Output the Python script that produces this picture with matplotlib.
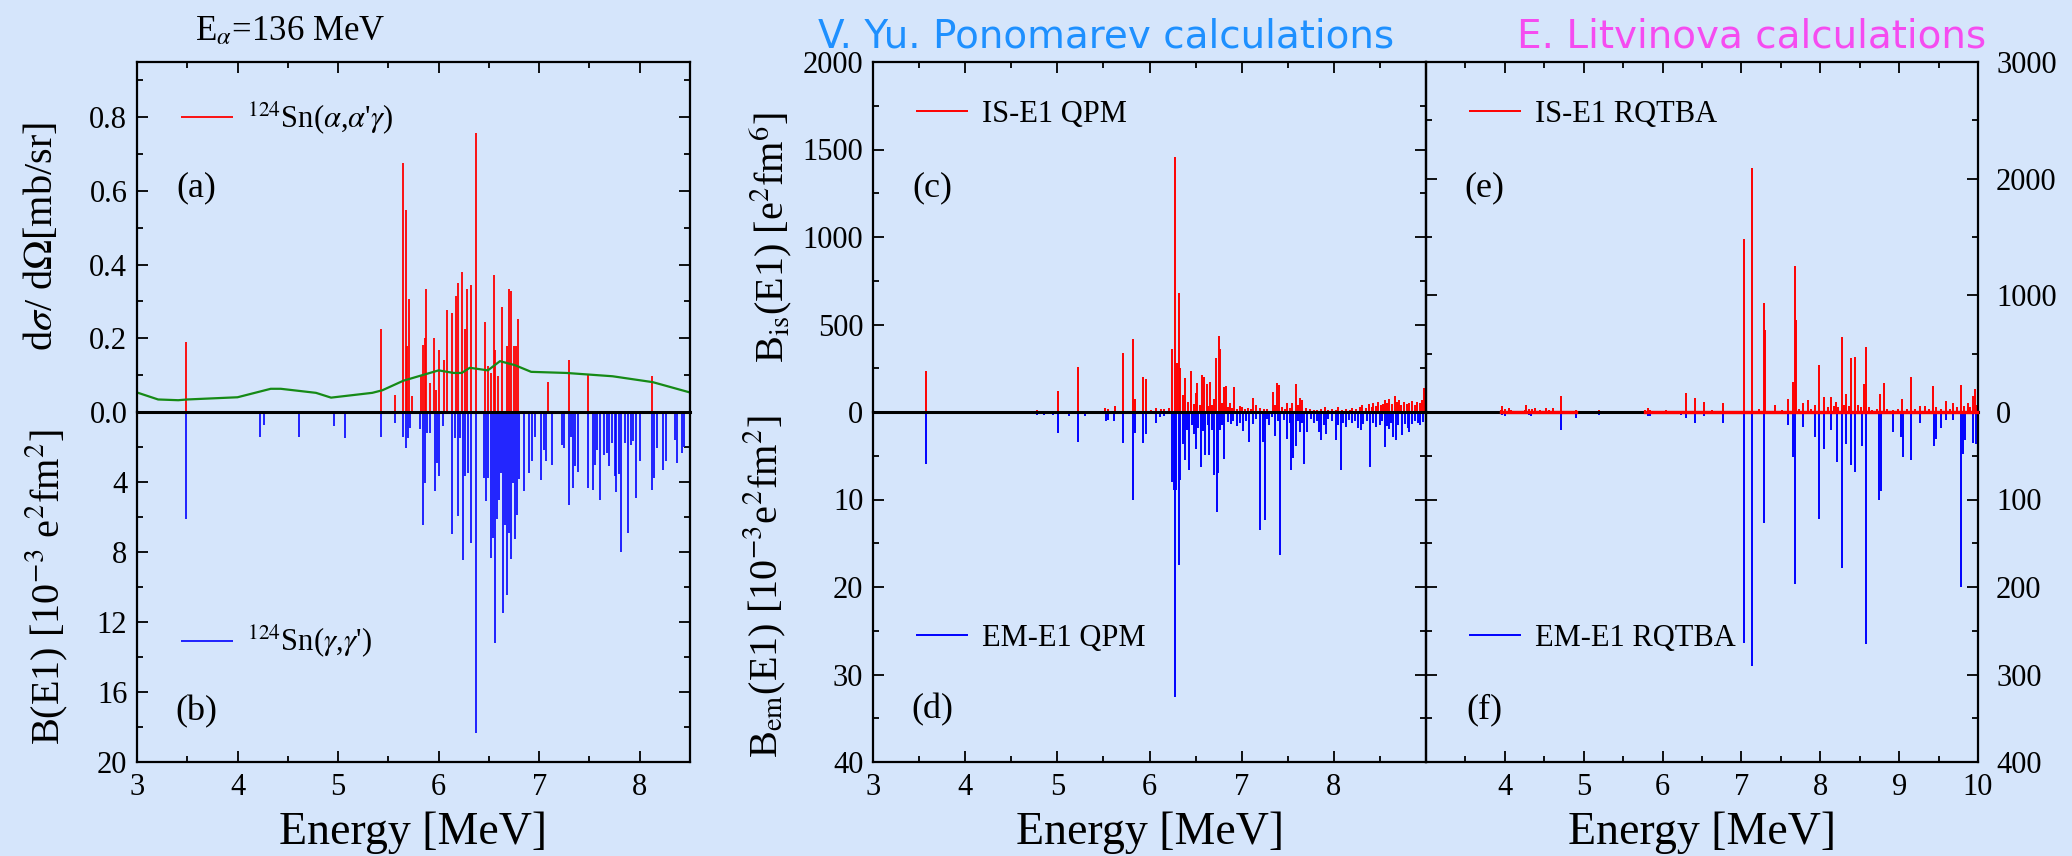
import numpy as np
import matplotlib.pyplot as plt
from matplotlib.ticker import FixedLocator, MultipleLocator, FormatStrFormatter

plt.rcParams['font.family'] = 'Liberation Serif'
plt.rcParams['mathtext.fontset'] = 'stix'

# ---- (a) 124Sn(alpha,alpha'gamma), E_alpha = 136 MeV, dsigma/dOmega [mb/sr]
aag_energy = [3.49, 5.43, 5.57, 5.65, 5.68, 5.69, 5.71, 5.74, 5.82, 5.84, 5.86, 5.87,
              5.91, 5.95, 5.97, 6.00, 6.05, 6.08, 6.13, 6.17, 6.19, 6.23, 6.26, 6.28,
              6.32, 6.37, 6.46, 6.49, 6.52, 6.55, 6.56, 6.59, 6.63, 6.68, 6.70, 6.72,
              6.75, 6.77, 6.79, 7.09, 7.30, 7.49, 8.12]
aag_xsec = [0.190, 0.224, 0.045, 0.675, 0.547, 0.180, 0.308, 0.043, 0.100, 0.183, 0.200, 0.334,
            0.079, 0.200, 0.061, 0.168, 0.140, 0.276, 0.269, 0.314, 0.349, 0.381, 0.224, 0.334,
            0.346, 0.757, 0.245, 0.124, 0.106, 0.371, 0.169, 0.097, 0.285, 0.178, 0.334, 0.328,
            0.178, 0.180, 0.253, 0.081, 0.142, 0.100, 0.099]

# smooth detection-efficiency curve drawn in (a)
curve_energy = [3.00, 3.21, 3.41, 3.50, 4.00, 4.33, 4.43, 4.78, 4.93, 5.34, 5.44, 5.65,
                6.00, 6.15, 6.23, 6.31, 6.49, 6.61, 6.76, 6.92, 7.27, 7.73, 8.13, 8.50]
curve_xsec = [0.053, 0.034, 0.032, 0.034, 0.040, 0.063, 0.063, 0.052, 0.039, 0.052, 0.059, 0.085,
              0.113, 0.106, 0.106, 0.120, 0.113, 0.138, 0.127, 0.109, 0.106, 0.097, 0.081, 0.053]

# ---- (b) 124Sn(gamma,gamma'), B(E1) [1e-3 e^2 fm^2]
gg_energy = [3.49, 4.22, 4.26, 4.61, 4.96, 5.07, 5.43, 5.57, 5.65, 5.68, 5.70, 5.72,
             5.81, 5.84, 5.86, 5.88, 5.91, 5.96, 5.98, 6.00, 6.04, 6.13, 6.16, 6.19,
             6.21, 6.24, 6.26, 6.29, 6.32, 6.37, 6.45, 6.47, 6.49, 6.52, 6.54, 6.56,
             6.58, 6.60, 6.62, 6.64, 6.66, 6.68, 6.70, 6.72, 6.74, 6.76, 6.78, 6.80,
             6.85, 6.90, 6.93, 6.96, 7.02, 7.05, 7.07, 7.13, 7.23, 7.25, 7.30, 7.32,
             7.34, 7.36, 7.39, 7.49, 7.54, 7.56, 7.58, 7.60, 7.64, 7.67, 7.69, 7.72,
             7.75, 7.76, 7.79, 7.81, 7.85, 7.88, 7.91, 7.93, 7.96, 8.00, 8.12, 8.14,
             8.17, 8.23, 8.26, 8.35, 8.37, 8.42, 8.44]
gg_be1 = [6.10, 1.40, 0.73, 1.40, 0.82, 1.50, 1.45, 0.63, 1.40, 2.06, 1.50, 0.90,
          0.97, 6.45, 4.06, 1.20, 1.20, 4.54, 2.92, 3.63, 0.82, 6.96, 1.50, 5.93,
          1.50, 8.45, 3.68, 3.49, 7.46, 18.34, 3.78, 5.11, 3.78, 8.36, 7.21, 13.22,
          6.10, 5.02, 3.49, 11.50, 6.45, 10.46, 6.93, 8.41, 4.06, 7.27, 5.88, 3.82,
          4.54, 3.49, 2.82, 1.40, 3.87, 2.16, 2.82, 3.00, 1.87, 2.06, 5.30, 1.40,
          4.35, 3.11, 3.45, 4.35, 4.45, 3.00, 2.16, 5.02, 2.44, 2.35, 3.11, 1.77,
          3.68, 4.58, 3.53, 7.98, 1.77, 6.93, 1.87, 1.68, 4.92, 2.82, 4.45, 3.78,
          2.06, 3.30, 2.82, 1.58, 2.92, 2.35, 2.02]

# ---- (c) isoscalar E1, QPM [e^2 fm^6]
qpm_is_energy = [3.58, 4.78, 4.95, 5.01, 5.22, 5.52, 5.55, 5.63, 5.71, 5.82, 5.84, 5.93,
                 5.96, 6.02, 6.07, 6.12, 6.16, 6.21, 6.24, 6.28, 6.30, 6.32, 6.33, 6.36,
                 6.39, 6.42, 6.45, 6.48, 6.50, 6.52, 6.55, 6.57, 6.59, 6.62, 6.64, 6.66,
                 6.68, 6.70, 6.72, 6.75, 6.77, 6.79, 6.81, 6.83, 6.85, 6.87, 6.90, 6.92,
                 6.95, 6.98, 7.00, 7.04, 7.07, 7.10, 7.12, 7.16, 7.20, 7.24, 7.28, 7.34,
                 7.36, 7.38, 7.41, 7.44, 7.47, 7.49, 7.52, 7.55, 7.59, 7.61, 7.63, 7.66,
                 7.70, 7.74, 7.78, 7.82, 7.86, 7.90, 7.94, 7.98, 8.02, 8.05, 8.09, 8.13,
                 8.17, 8.20, 8.24, 8.28, 8.31, 8.35, 8.38, 8.41, 8.43, 8.46, 8.48, 8.51,
                 8.53, 8.55, 8.58, 8.60, 8.63, 8.66, 8.68, 8.71, 8.73, 8.76, 8.79, 8.82,
                 8.85, 8.88, 8.90, 8.93, 8.96, 8.98]
qpm_is_b = [232, 13, 8, 122, 257, 23, 18, 32, 339, 417, 77, 200,
            189, 12, 23, 18, 15, 22, 358, 1459, 278, 678, 253, 97,
            192, 60, 234, 45, 107, 164, 40, 211, 202, 160, 35, 170,
            40, 72, 307, 434, 358, 50, 145, 149, 30, 53, 25, 145,
            20, 35, 30, 15, 25, 20, 78, 40, 22, 15, 20, 116,
            40, 164, 154, 30, 20, 53, 25, 53, 158, 40, 82, 69,
            25, 15, 12, 14, 16, 30, 12, 15, 10, 30, 12, 18,
            10, 22, 15, 30, 38, 25, 45, 30, 53, 35, 59, 40,
            45, 69, 50, 72, 45, 93, 55, 69, 40, 59, 45, 50,
            65, 40, 55, 53, 70, 135]

# ---- (d) electromagnetic E1, QPM [1e-3 e^2 fm^2]
qpm_em_energy = [3.58, 4.50, 4.78, 4.85, 4.95, 5.01, 5.13, 5.22, 5.30, 5.53, 5.55, 5.62,
                 5.71, 5.82, 5.84, 5.93, 5.96, 6.07, 6.11, 6.16, 6.24, 6.27, 6.28, 6.29,
                 6.32, 6.33, 6.36, 6.39, 6.41, 6.43, 6.46, 6.48, 6.50, 6.53, 6.56, 6.58,
                 6.60, 6.63, 6.65, 6.68, 6.70, 6.73, 6.74, 6.76, 6.79, 6.81, 6.85, 6.88,
                 6.91, 6.95, 6.98, 7.01, 7.05, 7.08, 7.12, 7.16, 7.20, 7.23, 7.25, 7.28,
                 7.30, 7.33, 7.36, 7.39, 7.42, 7.46, 7.49, 7.52, 7.54, 7.56, 7.59, 7.61,
                 7.63, 7.66, 7.68, 7.71, 7.75, 7.79, 7.82, 7.84, 7.86, 7.89, 7.91, 7.94,
                 7.98, 8.02, 8.05, 8.08, 8.10, 8.13, 8.16, 8.20, 8.23, 8.26, 8.29, 8.32,
                 8.36, 8.39, 8.42, 8.46, 8.50, 8.52, 8.55, 8.58, 8.60, 8.62, 8.64, 8.67,
                 8.70, 8.74, 8.77, 8.80, 8.82, 8.85, 8.88, 8.91, 8.94, 8.97]
qpm_em_b = [5.9, 0.2, 0.3, 0.3, 0.3, 2.4, 0.4, 3.4, 0.5, 1.0, 0.9, 1.0,
            3.5, 10.1, 2.4, 3.5, 2.5, 1.3, 0.6, 0.5, 8.0, 8.9, 32.6, 8.9,
            17.5, 7.8, 3.7, 5.5, 2.0, 6.6, 1.5, 2.5, 4.2, 1.8, 6.3, 2.2,
            4.9, 1.5, 4.9, 2.0, 7.2, 11.4, 7.0, 2.0, 1.5, 5.4, 1.1, 1.4,
            1.0, 1.6, 1.2, 2.2, 1.0, 3.4, 1.4, 0.8, 13.5, 3.4, 12.3, 0.8,
            1.5, 0.6, 2.7, 1.0, 16.3, 0.9, 3.1, 1.2, 6.6, 5.3, 3.9, 1.0,
            2.3, 1.2, 5.9, 2.3, 0.8, 1.3, 1.0, 2.3, 3.2, 1.5, 2.5, 0.8,
            1.0, 3.2, 1.5, 6.6, 1.2, 1.7, 0.9, 1.3, 1.0, 1.8, 2.1, 1.4,
            1.0, 6.3, 1.2, 1.7, 1.5, 1.0, 4.0, 1.6, 1.9, 1.2, 2.8, 3.2,
            1.5, 2.6, 1.4, 1.8, 2.3, 1.4, 1.0, 1.3, 1.5, 1.1]

# ---- (e) isoscalar E1, RQTBA [e^2 fm^6]
rqtba_is_energy = [3.95, 3.97, 4.00, 4.05, 4.08, 4.25, 4.27, 4.30, 4.35, 4.38, 4.45, 4.52,
                   4.56, 4.61, 4.71, 4.90, 5.20, 5.78, 5.81, 5.84, 6.04, 6.15, 6.30, 6.41,
                   6.52, 6.63, 6.76, 6.90, 7.03, 7.14, 7.22, 7.29, 7.30, 7.43, 7.52, 7.59,
                   7.66, 7.68, 7.69, 7.73, 7.78, 7.85, 7.88, 7.93, 7.99, 8.05, 8.10, 8.14,
                   8.18, 8.20, 8.23, 8.27, 8.30, 8.33, 8.36, 8.39, 8.44, 8.48, 8.52, 8.55,
                   8.58, 8.62, 8.66, 8.72, 8.76, 8.81, 8.85, 8.92, 8.98, 9.04, 9.10, 9.15,
                   9.20, 9.27, 9.33, 9.38, 9.43, 9.47, 9.53, 9.60, 9.65, 9.68, 9.73, 9.79,
                   9.82, 9.87, 9.90, 9.94, 9.96, 9.99]
rqtba_is_b = [20, 49, 25, 34, 15, 20, 63, 30, 25, 34, 15, 34,
              15, 34, 140, 14, 14, 20, 34, 20, 14, 10, 163, 120,
              86, 20, 77, 10, 1486, 2091, 30, 934, 706, 63, 20, 114,
              254, 1254, 791, 25, 80, 100, 30, 57, 400, 125, 40, 131,
              50, 90, 40, 640, 60, 151, 50, 460, 475, 60, 40, 240,
              555, 40, 20, 30, 155, 250, 30, 20, 30, 114, 25, 300,
              30, 49, 54, 30, 226, 40, 30, 97, 30, 77, 40, 235,
              50, 77, 40, 134, 193, 60]

# ---- (f) electromagnetic E1, RQTBA [1e-3 e^2 fm^2]
rqtba_em_energy = [3.97, 4.00, 4.30, 4.33, 4.71, 4.90, 5.20, 5.81, 5.84, 6.24, 6.30, 6.41,
                   6.52, 6.76, 7.03, 7.14, 7.29, 7.59, 7.65, 7.68, 7.78, 7.93, 7.99, 8.05,
                   8.13, 8.21, 8.27, 8.33, 8.39, 8.44, 8.53, 8.58, 8.74, 8.77, 8.92, 9.02,
                   9.05, 9.15, 9.27, 9.44, 9.47, 9.53, 9.60, 9.68, 9.79, 9.81, 9.84, 9.94,
                   9.97]
rqtba_em_b = [3, 4, 3, 4, 20, 7, 3, 5, 4, 3, 7, 12,
              4, 13, 264, 290, 127, 15, 51, 196, 17, 29, 122, 42,
              20, 57, 178, 37, 61, 68, 39, 265, 101, 90, 23, 28,
              51, 55, 13, 39, 31, 18, 9, 9, 200, 48, 32, 35,
              36]

BG = '#d5e5fb'
RED, BLUE, GREEN = '#ff0000', '#0000ff', '#168a16'
W, H = 2072, 856
TICK_FS = 22

fig = plt.figure(figsize=(W / 100, H / 100), dpi=100, facecolor=BG)


def px_axes(x0, x1, y0, y1):
    # axes placed by pixel box (y measured from the top)
    return fig.add_axes([x0 / W, 1 - y1 / H, (x1 - x0) / W, (y1 - y0) / H], facecolor='none')


def ftext(x, y, s, **kw):
    return fig.text(x / W, 1 - y / H, s, **kw)


def style(ax, upper, xlim, xticks, ymax, yminor, ylabels, fmt='%g',
          left_lab=True, right_lab=False):
    ax.set_xlim(*xlim)
    ax.xaxis.set_major_locator(FixedLocator(xticks))
    ax.xaxis.set_minor_locator(MultipleLocator(0.5))
    if upper:
        ax.set_ylim(0, ymax)
        ax.set_zorder(2)
    else:
        ax.set_ylim(ymax, 0)
        ax.spines['top'].set_visible(False)
        ax.set_zorder(1)
    ax.yaxis.set_major_locator(FixedLocator(ylabels))
    ax.yaxis.set_minor_locator(MultipleLocator(yminor))
    ax.yaxis.set_major_formatter(FormatStrFormatter(fmt))
    for side in ['left', 'right', 'top', 'bottom']:
        ax.spines[side].set_linewidth(1.6)
    if upper:
        # the shared zero line
        ax.spines['bottom'].set_linewidth(2.2)
    ax.tick_params(which='both', direction='in', width=1.3, labelsize=TICK_FS,
                   top=upper, bottom=not upper, left=True, right=True,
                   labelbottom=not upper, labelleft=left_lab, labelright=right_lab)
    ax.tick_params(which='major', length=8)
    ax.tick_params(which='minor', length=4.5)
    ax.tick_params(axis='x', pad=8)
    ax.tick_params(axis='y', which='both', pad=13 if right_lab else 7)


def legend(ax, handle, label, x, y):
    ax.legend([handle], [label], loc='center left', bbox_to_anchor=(x, y),
              frameon=False, borderpad=0, borderaxespad=0, fontsize=22,
              handlelength=1.7, handletextpad=0.45)


def tag(ax, x, y, s):
    ax.text(x, y, s, transform=ax.transAxes, fontsize=26, ha='center', va='center')


cols = [(137, 690), (873, 1426), (1426, 1978)]
top_row, bot_row = (62, 412), (412, 762)

# ---------------- left column: experiment
ax_a = px_axes(*cols[0], *top_row)
ax_b = px_axes(*cols[0], *bot_row)
style(ax_a, True, (3, 8.5), range(3, 9), 0.95, 0.1, np.arange(0, 0.81, 0.2), fmt='%.1f')
style(ax_b, False, (3, 8.5), range(3, 9), 20, 2, np.arange(4, 21, 4))

h = ax_a.vlines(aag_energy, 0, aag_xsec, color=RED, lw=1.3)
ax_a.plot(curve_energy, curve_xsec, color=GREEN, lw=1.6)
legend(ax_a, h, r"$^{124}$Sn($\alpha$,$\alpha$'$\gamma$)", 0.0796, 0.84)
h = ax_b.vlines(gg_energy, 0, gg_be1, color=BLUE, lw=1.2)
legend(ax_b, h, r"$^{124}$Sn($\gamma$,$\gamma$')", 0.0796, 0.343)
tag(ax_a, 0.107, 0.64, '(a)')
tag(ax_b, 0.107, 0.143, '(b)')

# ---------------- middle column: QPM
ax_c = px_axes(*cols[1], *top_row)
ax_d = px_axes(*cols[1], *bot_row)
style(ax_c, True, (3, 9), range(3, 9), 2000, 250, np.arange(0, 2001, 500))
style(ax_d, False, (3, 9), range(3, 9), 40, 5, np.arange(10, 41, 10))
h = ax_c.vlines(qpm_is_energy, 0, qpm_is_b, color=RED, lw=1.4)
legend(ax_c, h, 'IS-E1 QPM', 0.078, 0.851)
h = ax_d.vlines(qpm_em_energy, 0, qpm_em_b, color=BLUE, lw=1.4)
legend(ax_d, h, 'EM-E1 QPM', 0.078, 0.354)
tag(ax_c, 0.107, 0.64, '(c)')
tag(ax_d, 0.107, 0.149, '(d)')

# ---------------- right column: RQTBA
ax_e = px_axes(*cols[2], *top_row)
ax_f = px_axes(*cols[2], *bot_row)
style(ax_e, True, (3, 10), range(4, 11), 3000, 500, np.arange(0, 3001, 1000),
      left_lab=False, right_lab=True)
style(ax_f, False, (3, 10), range(4, 11), 400, 50, np.arange(100, 401, 100),
      left_lab=False, right_lab=True)
h = ax_e.vlines(rqtba_is_energy, 0, rqtba_is_b, color=RED, lw=1.4)
# red trace along zero between neighbouring RQTBA states
e_arr = np.asarray(rqtba_is_energy)
for g in np.split(e_arr, np.where(np.diff(e_arr) > 0.25)[0] + 1):
    ax_e.plot([g[0], g[-1]], [0, 0], color=RED, lw=2.4, clip_on=False, zorder=3)
legend(ax_e, h, 'IS-E1 RQTBA', 0.078, 0.851)
h = ax_f.vlines(rqtba_em_energy, 0, rqtba_em_b, color=BLUE, lw=1.4)
legend(ax_f, h, 'EM-E1 RQTBA', 0.078, 0.354)
tag(ax_e, 0.105, 0.64, '(e)')
tag(ax_f, 0.105, 0.149, '(f)')

# ---------------- axis titles and headers
for xc in (413, 1150, 1702):
    ftext(xc, 833, 'Energy [MeV]', fontsize=33, ha='center', va='center')

ylab = dict(fontsize=29, rotation=90, ha='center', va='center')
ftext(42, 237, r'd$\sigma$/ d$\Omega$[mb/sr]', **ylab)
ftext(47, 587, r'B(E1) [10$^{-3}$ e$^2$fm$^2$]', **ylab)
ftext(771, 237, r'B$_{\rm is}$(E1) [e$^2$fm$^6$]', **ylab)
ftext(765, 587, r'B$_{\rm em}$(E1) [10$^{-3}$e$^2$fm$^2$]', **ylab)

ftext(290, 32, r'E$_\alpha$=136 MeV', fontsize=25, ha='center', va='center')
ftext(1106, 36, 'V. Yu. Ponomarev calculations', fontsize=28, color='#1e90ff',
      family='DejaVu Sans', ha='center', va='center')
ftext(1752, 36, 'E. Litvinova calculations', fontsize=28, color='#f54cf0',
      family='DejaVu Sans', ha='center', va='center')

fig.savefig('out.png', dpi=100, facecolor=BG)
